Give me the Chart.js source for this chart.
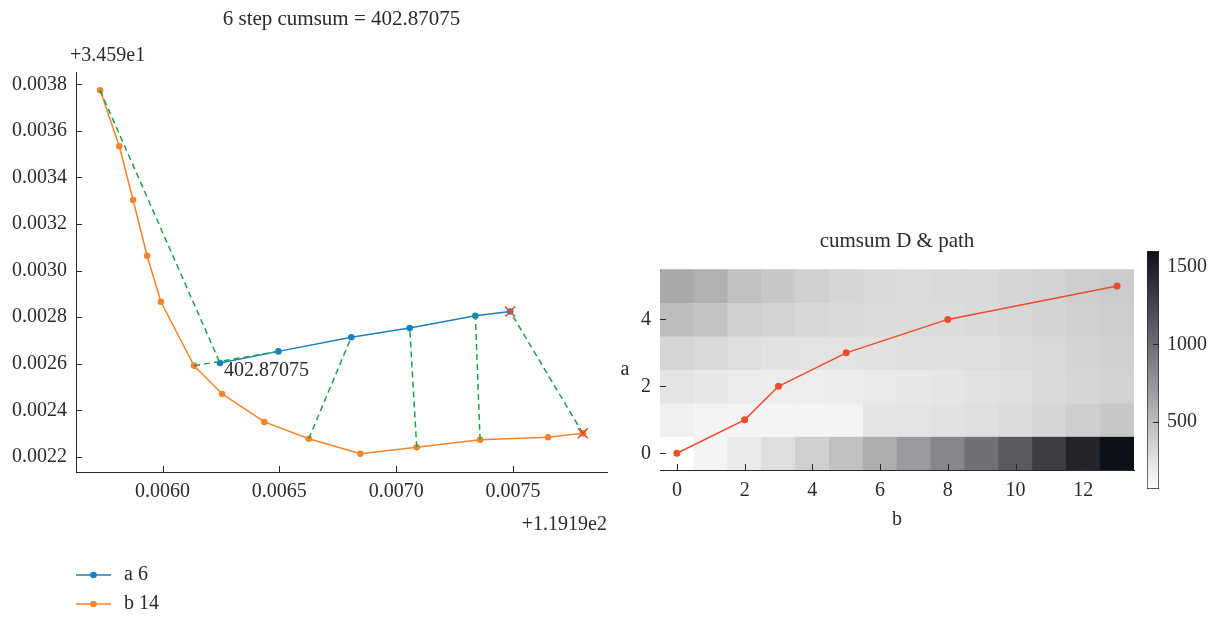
<!DOCTYPE html>
<html>
<head>
<meta charset="utf-8">
<title>cumsum path</title>
<script src="https://cdn.jsdelivr.net/npm/chart.js@4.4.1/dist/chart.umd.min.js"></script>
<style>
  html, body { margin: 0; padding: 0; background: #fff; }
  body { width: 1220px; height: 617px; position: relative; overflow: hidden; }
  .box { position: absolute; }
</style>
</head>
<body>
<div class="box" style="left:0;top:0;width:620px;height:617px"><canvas id="pathChart"></canvas></div>
<div class="box" style="left:600px;top:220px;width:540px;height:325px"><canvas id="heatChart"></canvas></div>
<div class="box" style="left:1130px;top:240px;width:90px;height:260px"><canvas id="barChart"></canvas></div>
<script>
// values are shown relative to the axis offsets below
const X_OFFSET = '+1.1919e2';
const Y_OFFSET = '+3.459e1';
const CUMSUM = 402.87075;

// series a (blue)
const A_X = [0.006246, 0.006496, 0.006808, 0.007058, 0.007339, 0.007488];
const A_Y = [0.002603, 0.002653, 0.002714, 0.002753, 0.002806, 0.002824];
// series b (orange)
const B_X = [0.005733, 0.005815, 0.005874, 0.005934, 0.005993, 0.006135, 0.006255,
             0.006436, 0.006626, 0.006847, 0.007088, 0.007359, 0.007650, 0.007799];
const B_Y = [0.003774, 0.003534, 0.003303, 0.003064, 0.002866, 0.002591, 0.002470,
             0.002350, 0.002278, 0.002213, 0.002241, 0.002273, 0.002284, 0.002301];
// matched index pairs (green dashed)
const MATCH_A = [0, 1, 2, 3, 4, 5];
const MATCH_B = [0, 5, 8, 10, 11, 13];

// cumulative cost matrix, rows = a (0..5), columns = b (0..13)
const HEAT_A = [0, 1, 2, 3, 4, 5];
const HEAT_B = [0, 1, 2, 3, 4, 5, 6, 7, 8, 9, 10, 11, 12, 13];
const HEAT = [
  [65, 135, 199, 276, 365, 467, 595, 710, 838, 978, 1119, 1310, 1476, 1604],
  [161, 135, 135, 135, 135, 142, 225, 237, 250, 263, 289, 327, 378, 416],
  [237, 212, 186, 180, 180, 186, 199, 212, 225, 250, 263, 301, 327, 352],
  [333, 308, 269, 250, 244, 244, 250, 263, 269, 276, 289, 308, 340, 365],
  [493, 442, 372, 346, 314, 301, 289, 289, 289, 301, 320, 340, 365, 384],
  [621, 570, 467, 416, 365, 327, 301, 289, 301, 308, 327, 346, 378, 403],
];
// warping path through the matrix
const PATH_B = [0, 2, 3, 5, 8, 13];
const PATH_A = [0, 1, 2, 3, 4, 5];

// ticks
const X_STEP = 0.0005, Y_STEP = 0.0002;
const HEAT_X_TICKS = [0, 2, 4, 6, 8, 10, 12];
const HEAT_Y_TICKS = [0, 2, 4];
const CBAR_TICKS = [500, 1000, 1500];

const BLUE = '#1b7fc0';
const ORANGE = '#f6842c';
const GREEN = '#1f9f4e';
const RED = '#ee4b2b';
const AXIS = '#262626';
const TEXT = '#2b2b2b';
const FAMILY = "'Liberation Serif', 'Times New Roman', serif";
const TICK_LEN = 6;

Chart.defaults.font.family = FAMILY;
Chart.defaults.font.size = 20;
Chart.defaults.color = TEXT;

const fontStr = (size) => Chart.helpers.toFont({ family: FAMILY, size: size }).string;

// tick marks point inward, drawn by the plugin below; the built-in ones stay invisible
function axisGrid() {
  return { drawOnChartArea: false, tickLength: -TICK_LEN, tickColor: 'rgba(0,0,0,0)' };
}
const fixTicks = (list) => (scale) => { scale.ticks = list.map(v => ({ value: v })); };
const fixWidth = (w) => (scale) => { scale.width = w; };
const fixHeight = (h) => (scale) => { scale.height = h; };

Chart.register({
  id: 'innerTicks',
  afterDraw(chart) {
    const { ctx } = chart;
    ctx.save();
    ctx.strokeStyle = AXIS;
    ctx.lineWidth = 1;
    Object.values(chart.scales).forEach(scale => {
      if (!scale.options.display) return;
      ctx.beginPath();
      scale.ticks.forEach((t, i) => {
        const p = Math.round(scale.getPixelForTick(i)) + 0.5;
        if (scale.position === 'bottom') {
          ctx.moveTo(p, scale.top);
          ctx.lineTo(p, scale.top - TICK_LEN);
        } else if (scale.position === 'left') {
          ctx.moveTo(scale.right, p);
          ctx.lineTo(scale.right + TICK_LEN, p);
        } else if (scale.position === 'right') {
          ctx.moveTo(scale.left, p);
          ctx.lineTo(scale.left - TICK_LEN, p);
        }
      });
      ctx.stroke();
    });
    ctx.restore();
  }
});

// ---------- left chart ----------
const aPoints = A_X.map((x, i) => ({ x: x, y: A_Y[i] }));
const bPoints = B_X.map((x, i) => ({ x: x, y: B_Y[i] }));
const matchLines = [];
MATCH_A.forEach((ia, k) => {
  // a null point breaks the dashed line between pairs
  matchLines.push(bPoints[MATCH_B[k]], aPoints[ia], { x: null, y: null });
});
const endMarks = [aPoints[aPoints.length - 1], bPoints[bPoints.length - 1]];

const xRange = [Math.min(...B_X, ...A_X), Math.max(...B_X, ...A_X)];
const yRange = [Math.min(...B_Y, ...A_Y), Math.max(...B_Y, ...A_Y)];
const xPad = (xRange[1] - xRange[0]) * 0.05;
const yPad = (yRange[1] - yRange[0]) * 0.05;

const offsetText = {
  id: 'offsetText',
  afterDraw(chart) {
    const { ctx, chartArea, scales } = chart;
    ctx.save();
    ctx.fillStyle = TEXT;
    ctx.font = fontStr(20);
    ctx.textBaseline = 'middle';
    ctx.textAlign = 'left';
    ctx.fillText(Y_OFFSET, chartArea.left - 6, chartArea.top - 16);
    // value label next to the first point of a
    const px = scales.x.getPixelForValue(A_X[0]);
    const py = scales.y.getPixelForValue(A_Y[0]);
    ctx.fillText(String(CUMSUM), px + 4, py + 8);
    ctx.restore();
  }
};

const legendRows = {
  id: 'legendRows',
  afterDraw(chart) {
    const { ctx, chartArea, scales } = chart;
    const left = chartArea.left;
    let y = scales.x.bottom + 38;
    ctx.save();
    chart.data.datasets.forEach(ds => {
      if (!ds.inLegend) return;
      ctx.strokeStyle = ds.borderColor;
      ctx.lineWidth = ds.borderWidth;
      ctx.beginPath();
      ctx.moveTo(left, y);
      ctx.lineTo(left + 35, y);
      ctx.stroke();
      ctx.fillStyle = ds.borderColor;
      ctx.beginPath();
      ctx.arc(left + 17.5, y, ds.pointRadius, 0, Math.PI * 2);
      ctx.fill();
      ctx.fillStyle = TEXT;
      ctx.font = fontStr(20);
      ctx.textBaseline = 'middle';
      ctx.textAlign = 'left';
      ctx.fillText(ds.label, left + 48, y);
      y += 29;
    });
    ctx.restore();
  }
};

new Chart(document.getElementById('pathChart'), {
  type: 'scatter',
  data: {
    datasets: [
      {
        label: 'end', data: endMarks, showLine: false, order: 0,
        pointStyle: 'crossRot', pointRadius: 7, pointHoverRadius: 7,
        borderColor: RED, backgroundColor: RED, borderWidth: 1.5
      },
      {
        label: 'match', data: matchLines, showLine: true, spanGaps: false, order: 1,
        borderColor: GREEN, borderWidth: 1.5, borderDash: [6, 4], pointRadius: 0
      },
      {
        label: 'a ' + A_X.length, data: aPoints, showLine: true, order: 2, inLegend: true,
        borderColor: BLUE, backgroundColor: BLUE, borderWidth: 1.5,
        pointRadius: 3.3, pointBorderWidth: 0, pointHoverRadius: 3.3
      },
      {
        label: 'b ' + B_X.length, data: bPoints, showLine: true, order: 3, inLegend: true,
        borderColor: ORANGE, backgroundColor: ORANGE, borderWidth: 1.5,
        pointRadius: 3.3, pointBorderWidth: 0, pointHoverRadius: 3.3
      }
    ]
  },
  options: {
    animation: false,
    responsive: true,
    maintainAspectRatio: false,
    layout: { padding: { left: 12, right: 13, top: 0, bottom: 80 } },
    plugins: {
      legend: { display: false },
      tooltip: { enabled: false },
      title: {
        display: true, fullSize: false,
        text: A_X.length + ' step cumsum = ' + CUMSUM,
        font: { size: 21, weight: 'normal' }, color: TEXT,
        padding: { top: 7, bottom: 40 }
      }
    },
    scales: {
      x: {
        type: 'linear',
        min: xRange[0] - xPad, max: xRange[1] + xPad,
        ticks: { stepSize: X_STEP, includeBounds: false, padding: 14, callback: v => v.toFixed(4) },
        grid: axisGrid(),
        border: { color: AXIS, width: 1 },
        title: { display: true, text: X_OFFSET, align: 'end', color: TEXT, padding: { top: 0, bottom: 0 } },
        afterFit: fixHeight(65)
      },
      y: {
        type: 'linear',
        min: yRange[0] - yPad, max: yRange[1] + yPad,
        ticks: { stepSize: Y_STEP, includeBounds: false, padding: 15, callback: v => v.toFixed(4) },
        grid: axisGrid(),
        border: { color: AXIS, width: 1 },
        afterFit: fixWidth(64)
      }
    }
  },
  plugins: [offsetText, legendRows]
});

// ---------- heatmap ----------
const flat = HEAT.flat();
const vmin = Math.min(...flat);
const vmax = Math.max(...flat);
const LOW = [255, 255, 255], HIGH = [14, 16, 23];
function shade(v) {
  const t = Math.max(0, Math.min(1, (v - vmin) / (vmax - vmin)));
  const c = LOW.map((l, i) => Math.round(l + (HIGH[i] - l) * t));
  return 'rgb(' + c.join(',') + ')';
}

const heatCells = [];
HEAT.forEach((row, ai) => {
  row.forEach((v, bi) => {
    heatCells.push({ x: HEAT_B[bi], y: [HEAT_A[ai] - 0.5, HEAT_A[ai] + 0.5], v: v });
  });
});

const sideLabel = {
  id: 'sideLabel',
  afterDraw(chart) {
    const { ctx, chartArea } = chart;
    ctx.save();
    ctx.fillStyle = TEXT;
    ctx.font = fontStr(20);
    ctx.textAlign = 'center';
    ctx.textBaseline = 'middle';
    ctx.fillText('a', chartArea.left - 35, (chartArea.top + chartArea.bottom) / 2);
    ctx.restore();
  }
};

new Chart(document.getElementById('heatChart'), {
  type: 'bar',
  data: {
    datasets: [
      {
        type: 'line', label: 'path', order: 0,
        data: PATH_B.map((b, i) => ({ x: b, y: PATH_A[i] })),
        borderColor: RED, backgroundColor: RED, borderWidth: 1.5,
        pointRadius: 3.5, pointBorderWidth: 0, pointHoverRadius: 3.5
      },
      {
        type: 'bar', label: 'cumsum D', order: 1,
        data: heatCells,
        backgroundColor: c => (c.raw ? shade(c.raw.v) : '#fff'),
        borderWidth: 0, barPercentage: 1, categoryPercentage: 1
      }
    ]
  },
  options: {
    animation: false,
    responsive: true,
    maintainAspectRatio: false,
    layout: { padding: { left: 40, right: 6, top: 0, bottom: 13 } },
    plugins: {
      legend: { display: false },
      tooltip: { enabled: false },
      title: {
        display: true, fullSize: false, text: 'cumsum D & path',
        font: { size: 21, weight: 'normal' }, color: TEXT,
        padding: { top: 9, bottom: 15 }
      }
    },
    scales: {
      x: {
        type: 'linear', offset: false,
        min: HEAT_B[0] - 0.5, max: HEAT_B[HEAT_B.length - 1] + 0.5,
        afterBuildTicks: fixTicks(HEAT_X_TICKS),
        ticks: { padding: 15 },
        grid: Object.assign(axisGrid(), { offset: false }),
        border: { color: AXIS, width: 1 },
        title: { display: true, text: 'b', color: TEXT, padding: { top: 0, bottom: 0 } },
        afterFit: fixHeight(62)
      },
      y: {
        type: 'linear',
        min: HEAT_A[0] - 0.5, max: HEAT_A[HEAT_A.length - 1] + 0.5,
        afterBuildTicks: fixTicks(HEAT_Y_TICKS),
        ticks: { padding: 15 },
        grid: axisGrid(),
        border: { color: AXIS, width: 1 },
        afterFit: fixWidth(20)
      }
    }
  },
  plugins: [sideLabel]
});

// ---------- colorbar ----------
new Chart(document.getElementById('barChart'), {
  type: 'bar',
  data: {
    labels: ['D'],
    datasets: [{
      data: [[vmin, vmax]],
      backgroundColor: c => {
        const chart = c.chart;
        if (!chart.chartArea) return shade(vmin);
        const y0 = chart.scales.y.getPixelForValue(vmin);
        const y1 = chart.scales.y.getPixelForValue(vmax);
        const g = chart.ctx.createLinearGradient(0, y0, 0, y1);
        g.addColorStop(0, shade(vmin));
        g.addColorStop(1, shade(vmax));
        return g;
      },
      borderColor: AXIS, borderWidth: 1, borderSkipped: false,
      barPercentage: 1, categoryPercentage: 1
    }]
  },
  options: {
    animation: false,
    responsive: true,
    maintainAspectRatio: false,
    layout: { padding: { left: 17, right: 13, top: 11, bottom: 11 } },
    plugins: { legend: { display: false }, tooltip: { enabled: false } },
    scales: {
      x: { display: false },
      y: {
        position: 'right',
        min: vmin, max: vmax,
        afterBuildTicks: fixTicks(CBAR_TICKS),
        ticks: { padding: 14, callback: v => String(v) },
        grid: axisGrid(),
        border: { display: false },
        afterFit: (scale) => {
          scale.width = 48;
          scale.paddingTop = 0;
          scale.paddingBottom = 0;
        }
      }
    }
  }
});
</script>
</body>
</html>
